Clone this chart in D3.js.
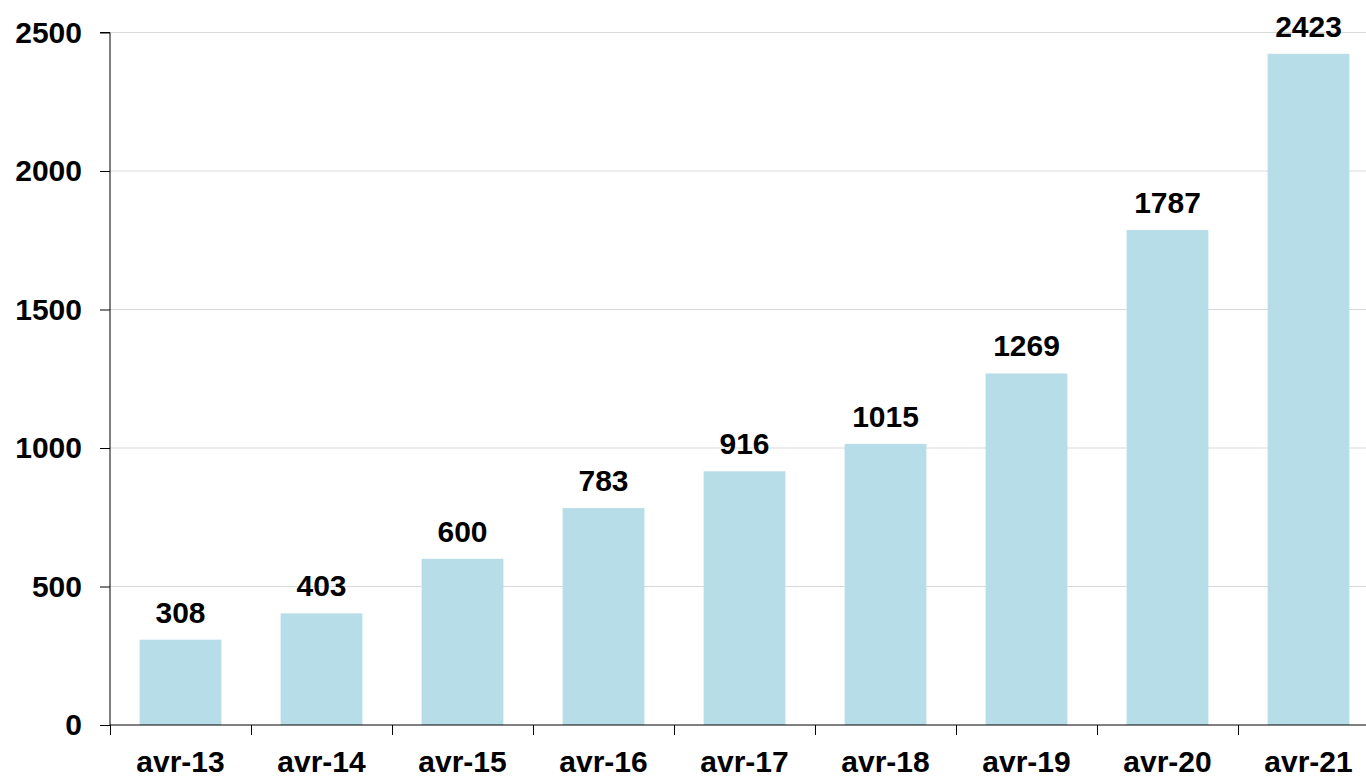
<!DOCTYPE html>
<meta charset="utf-8">
<script src="https://d3js.org/d3.v7.min.js"></script>
<style>
  body { margin: 0; background: #fff; }
  text { font-family: "Liberation Sans", Arial, sans-serif; font-weight: bold; fill: #000; }
</style>
<div id="chart"></div>
<script>
  const categories = ["avr-13", "avr-14", "avr-15", "avr-16", "avr-17", "avr-18", "avr-19", "avr-20", "avr-21"];
  const values = [308, 403, 600, 783, 916, 1015, 1269, 1787, 2423];
  const yTicks = [0, 500, 1000, 1500, 2000, 2500];

  const W = 1366, H = 778;
  const plotLeft = 110, plotTop = 32.5, plotBottom = 725;

  const svg = d3.select("#chart").append("svg")
    .attr("width", W).attr("height", H);

  // band per category, bars take ~58% of it
  const x = d3.scaleBand().domain(categories).range([plotLeft, plotLeft + 9 * 141]).padding(0);
  const barW = x.bandwidth() * 0.58;

  const y = d3.scaleLinear().domain([0, 2500]).range([plotBottom, plotTop]);

  // gridlines
  svg.append("g").selectAll("line")
    .data(yTicks.filter(d => d > 0))
    .join("line")
    .attr("x1", plotLeft).attr("x2", W)
    .attr("y1", d => y(d)).attr("y2", d => y(d))
    .attr("stroke", "#d9d9d9").attr("stroke-width", 1);

  // bars
  svg.append("g").selectAll("rect")
    .data(values)
    .join("rect")
    .attr("x", (d, i) => x(categories[i]) + (x.bandwidth() - barW) / 2)
    .attr("y", d => y(d))
    .attr("width", barW)
    .attr("height", d => plotBottom - y(d))
    .attr("fill", "#b7dde8");

  // value labels
  svg.append("g").selectAll("text")
    .data(values)
    .join("text")
    .attr("x", (d, i) => x(categories[i]) + x.bandwidth() / 2)
    .attr("y", d => y(d) - 17)
    .attr("text-anchor", "middle")
    .style("font-size", "30px")
    .text(d => d);

  // y axis
  const yAxis = svg.append("g")
    .attr("transform", `translate(${plotLeft},0)`)
    .call(d3.axisLeft(y).tickValues(yTicks).tickSize(10).tickPadding(18).tickFormat(d3.format("d")));
  yAxis.select(".domain").attr("d", `M-10,${plotTop}H0V${plotBottom}`).attr("stroke", "#000");
  yAxis.selectAll(".tick line").attr("stroke", "#000");
  yAxis.selectAll("text").style("font-size", "30px").attr("font-family", null);

  // x axis: ticks between categories
  const xg = svg.append("g");
  xg.append("line")
    .attr("x1", plotLeft).attr("x2", W)
    .attr("y1", plotBottom).attr("y2", plotBottom)
    .attr("stroke", "#000");
  xg.selectAll(".sep")
    .data(categories)
    .join("line")
    .attr("class", "sep")
    .attr("x1", d => Math.round(x(d)) + 0.5).attr("x2", d => Math.round(x(d)) + 0.5)
    .attr("y1", plotBottom).attr("y2", plotBottom + 10)
    .attr("stroke", "#000");
  xg.selectAll("text")
    .data(categories)
    .join("text")
    .attr("x", d => x(d) + x.bandwidth() / 2)
    .attr("y", plotBottom + 47)
    .attr("text-anchor", "middle")
    .style("font-size", "30px")
    .text(d => d);
</script>
